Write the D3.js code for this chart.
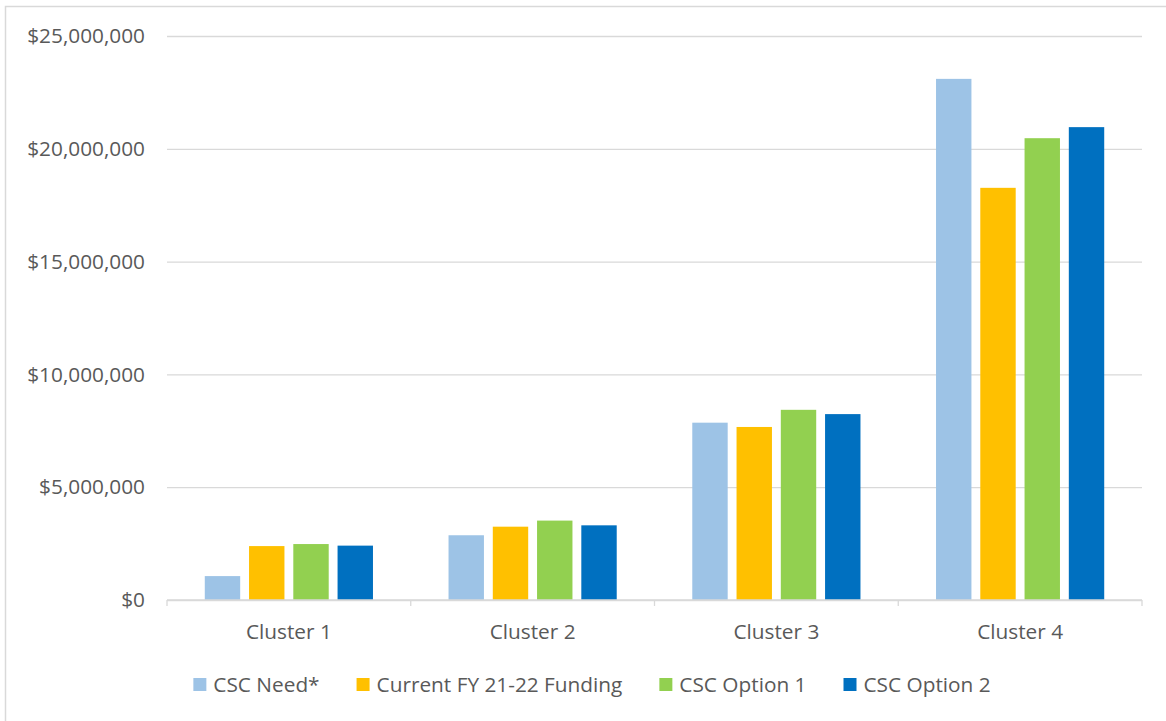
<!DOCTYPE html>
<html>
<head>
<meta charset="utf-8">
<script src="https://cdn.jsdelivr.net/npm/d3@7"></script>
<style>
  body { margin: 0; background: #fff; }
  svg { display: block; }
  text { font-family: "Open Sans", Lato, sans-serif; fill: #595959; }
</style>
</head>
<body>
<div id="chart"></div>
<script>
// categories and series
var clusters = ["Cluster 1", "Cluster 2", "Cluster 3", "Cluster 4"];
var seriesNames = ["CSC Need*", "Current FY 21-22 Funding", "CSC Option 1", "CSC Option 2"];
var seriesColors = ["#9dc3e6", "#ffc000", "#92d050", "#0070c0"];

// values per cluster, in dollars
var cscNeed = [1060000, 2870000, 7860000, 23100000];
var currentFunding = [2390000, 3250000, 7670000, 18270000];
var cscOption1 = [2480000, 3520000, 8430000, 20470000];
var cscOption2 = [2410000, 3310000, 8240000, 20960000];

var yTicks = [0, 5000000, 10000000, 15000000, 20000000, 25000000];

var allSeries = [cscNeed, currentFunding, cscOption1, cscOption2];

(function() {
  //Width and height
  var w = 1166;
  var h = 721;
  var plotL = 167, plotR = 1142, plotT = 36, plotB = 600;
  var fontSize = "20.8px";

  var svg = d3.select("#chart")
    .append("svg")
    .attr("width", w)
    .attr("height", h);

  // outer chart border
  svg.append("rect")
    .attr("x", 5.5)
    .attr("y", 6.5)
    .attr("width", w + 10)
    .attr("height", h + 10)
    .attr("fill", "none")
    .attr("stroke", "#d9d9d9")
    .attr("stroke-width", 1.5);

  var y = d3.scaleLinear()
    .domain([0, 25000000])
    .range([plotB, plotT]);

  var x0 = d3.scaleBand()
    .domain(clusters)
    .range([plotL, plotR])
    .paddingInner(0.31)
    .paddingOuter(0.155);

  var x1 = d3.scaleBand()
    .domain(seriesNames)
    .range([0, x0.bandwidth()])
    .paddingInner(0.2);

  var fmt = function(d) { return "$" + d3.format(",")(d); };

  // gridlines and y labels
  var yAxis = d3.axisLeft(y)
    .tickValues(yTicks)
    .tickFormat(fmt)
    .tickSize(-(plotR - plotL))
    .tickPadding(22);

  var gy = svg.append("g")
    .attr("transform", "translate(" + plotL + ",0)")
    .call(yAxis);
  gy.select(".domain").remove();
  gy.selectAll(".tick line")
    .attr("stroke", "#d9d9d9")
    .attr("stroke-width", 1.3);
  gy.selectAll(".tick text")
    .attr("fill", "#595959")
    .style("font-size", fontSize);

  // bars
  var rows = clusters.map(function(c, i) {
    return seriesNames.map(function(s, j) {
      return { cluster: c, series: s, value: allSeries[j][i], color: seriesColors[j] };
    });
  });

  svg.selectAll("g.cluster")
    .data(rows)
    .enter()
    .append("g")
    .attr("class", "cluster")
    .attr("transform", function(d, i) { return "translate(" + x0(clusters[i]) + ",0)"; })
    .selectAll("rect")
    .data(function(d) { return d; })
    .enter()
    .append("rect")
    .attr("x", function(d) { return x1(d.series); })
    .attr("y", function(d) { return y(d.value); })
    .attr("width", x1.bandwidth())
    .attr("height", function(d) { return plotB - y(d.value); })
    .attr("fill", function(d) { return d.color; });

  // x axis
  var xEdge = d3.scaleLinear().domain([0, clusters.length]).range([plotL, plotR]);
  var gx = svg.append("g");
  gx.append("line")
    .attr("x1", plotL).attr("x2", plotR)
    .attr("y1", plotB).attr("y2", plotB)
    .attr("stroke", "#d9d9d9")
    .attr("stroke-width", 1.3);
  gx.selectAll("line.tk")
    .data(d3.range(clusters.length + 1))
    .enter()
    .append("line")
    .attr("class", "tk")
    .attr("x1", function(d) { return xEdge(d); })
    .attr("x2", function(d) { return xEdge(d); })
    .attr("y1", plotB)
    .attr("y2", plotB + 6)
    .attr("stroke", "#d9d9d9")
    .attr("stroke-width", 1.3);
  gx.selectAll("text")
    .data(clusters)
    .enter()
    .append("text")
    .text(function(d) { return d; })
    .attr("x", function(d) { return x0(d) + x0.bandwidth() / 2; })
    .attr("y", 639)
    .attr("text-anchor", "middle")
    .style("font-size", fontSize);

  // legend
  var legend = svg.append("g");
  var items = legend.selectAll("g")
    .data(seriesNames)
    .enter()
    .append("g");
  items.append("rect")
    .attr("width", 13)
    .attr("height", 13)
    .attr("y", 678)
    .attr("fill", function(d, i) { return seriesColors[i]; });
  items.append("text")
    .text(function(d) { return d; })
    .attr("x", 20)
    .attr("y", 692)
    .style("font-size", fontSize);

  var xPos = 0;
  items.each(function(d) {
    var g = d3.select(this);
    g.attr("transform", "translate(" + xPos + ",0)");
    xPos += 20 + g.select("text").node().getComputedTextLength() + 37;
  });
  var legendWidth = xPos - 37;
  legend.attr("transform", "translate(" + (592 - legendWidth / 2) + ",0)");
})();
</script>
</body>
</html>
